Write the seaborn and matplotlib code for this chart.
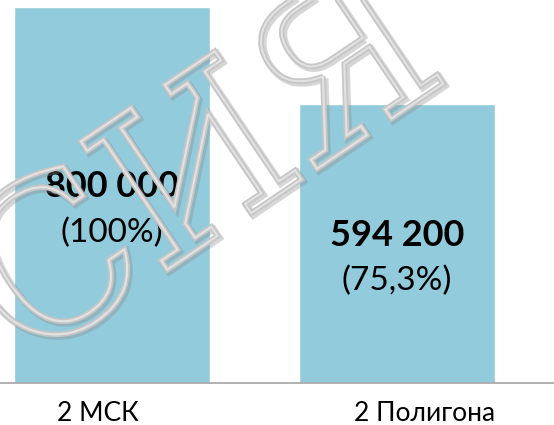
import matplotlib
matplotlib.use('Agg')
import matplotlib.pyplot as plt
import matplotlib.patheffects as pe
import matplotlib.transforms as mtransforms
from matplotlib.textpath import TextPath
from matplotlib.patches import PathPatch
from matplotlib.font_manager import FontProperties
import seaborn as sns
import pandas as pd

categories = ['2 МСК', '2 Полигона']
values = [800000, 594200]
value_labels = ['800 000', '594 200']
share_labels = ['(100%)', '(75,3%)']
watermark = 'СИЯ'

BAR_COLOR = '#92CBDC'

sns.set_style('white')
plt.rcParams['font.family'] = ['Lato', 'DejaVu Sans']

df = pd.DataFrame({'category': categories, 'value': values})

fig = plt.figure(figsize=(5.54, 4.25), dpi=100)
ax = fig.add_axes([0, 42 / 425, 1, 383 / 425])

sns.barplot(data=df, x='category', y='value', color=BAR_COLOR,
            width=0.685, saturation=1, ax=ax)

ax.set_xlim(-0.393, 1.551)
ax.set_ylim(0, 814900)
ax.set_xlabel('')
ax.set_ylabel('')
ax.set_yticks([])
for side in ['left', 'right', 'top']:
    ax.spines[side].set_visible(False)
ax.spines['bottom'].set_color('#ababab')
ax.spines['bottom'].set_linewidth(1.3)
ax.tick_params(axis='x', length=0, pad=13, labelsize=19, labelcolor='black')

# tick labels sit a bit off the bar centres in the original
shifts = [-14, 28]
for lbl, dx in zip(ax.get_xticklabels(), shifts):
    lbl.set_transform(lbl.get_transform() +
                      mtransforms.ScaledTranslation(dx / 100, 0, fig.dpi_scale_trans))

for i, (v, num, share) in enumerate(zip(values, value_labels, share_labels)):
    ax.annotate(num, (i, v / 2), xytext=(0, 6), textcoords='offset points',
                ha='center', va='center', fontsize=26, fontweight='bold', color='black')
    ax.annotate(share, (i, v / 2), xytext=(0, -27), textcoords='offset points',
                ha='center', va='center', fontsize=24, color='black')

# outlined watermark (only the outline, the bars show through)
tp = TextPath((0, 0), watermark, size=212, prop=FontProperties(family='DejaVu Serif'))
bb = tp.get_extents()
cx, cy = (bb.x0 + bb.x1) / 2, (bb.y0 + bb.y1) / 2
place = mtransforms.Affine2D().translate(-cx, -cy).rotate_deg(34).translate(195, 425 - 158)
mark = PathPatch(tp, facecolor='none', edgecolor='#e2e2e2', linewidth=1.5,
                 transform=place, zorder=10,
                 path_effects=[pe.Stroke(linewidth=5, foreground='#8a8a8a', alpha=0.35, offset=(1.5, -1.5)),
                               pe.Stroke(linewidth=4, foreground='#c6c6c6'),
                               pe.Normal()])
fig.add_artist(mark)

fig.savefig('out.png', dpi=100)
